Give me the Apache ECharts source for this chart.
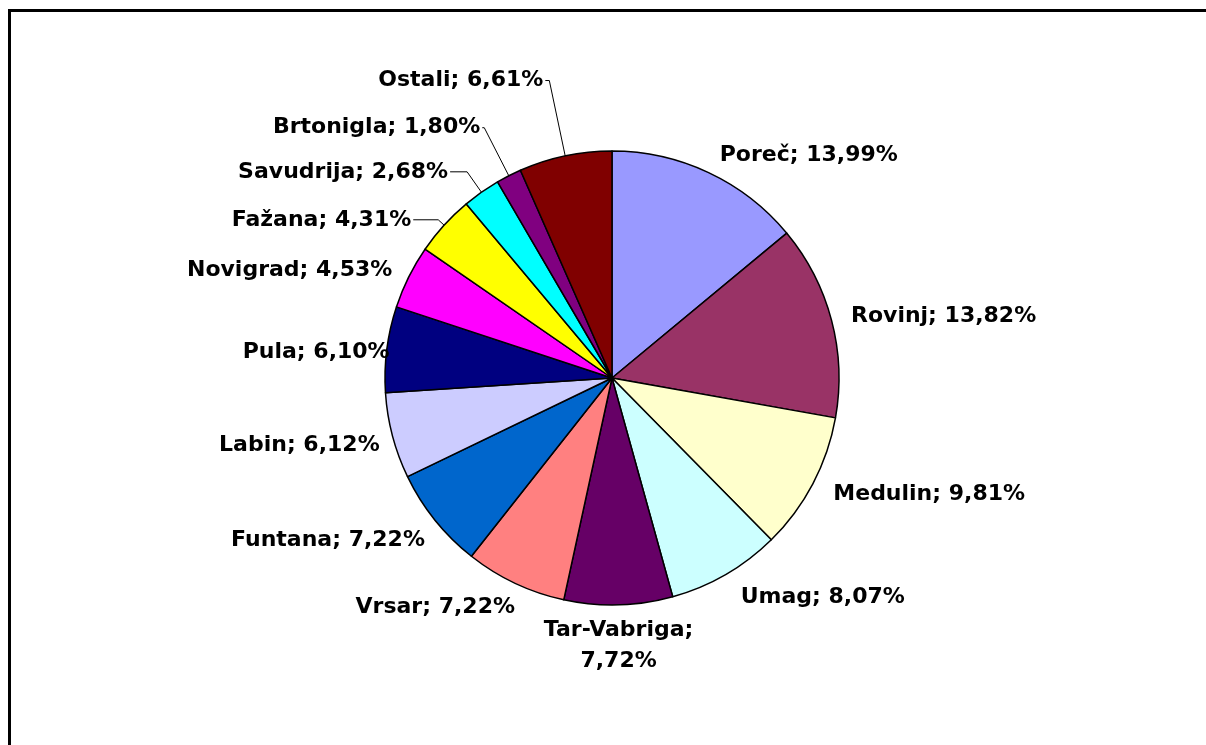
<!DOCTYPE html>
<html>
<head>
<meta charset="utf-8">
<script src="https://cdn.jsdelivr.net/npm/echarts@6/dist/echarts.min.js"></script>
<style>
  html, body { margin: 0; padding: 0; background: #fff; }
  #chart-container { width: 1206px; height: 745px; }
</style>
</head>
<body>
<div id="chart-container"></div>
<script>
// share by destination, clockwise from 12 o'clock
var places = ["Poreč", "Rovinj", "Medulin", "Umag", "Tar-Vabriga", "Vrsar", "Funtana",
  "Labin", "Pula", "Novigrad", "Fažana", "Savudrija", "Brtonigla", "Ostali"];
var shares = [13.99, 13.82, 9.81, 8.07, 7.72, 7.22, 7.22, 6.12, 6.10, 4.53, 4.31, 2.68, 1.80, 6.61];
var colors = ["#9999FF", "#993366", "#FFFFCC", "#CCFFFF", "#660066", "#FF8080", "#0066CC",
  "#CCCCFF", "#000080", "#FF00FF", "#FFFF00", "#00FFFF", "#800080", "#800000"];

// these get a leader line in the original
var withLine = ["Fažana", "Savudrija", "Brtonigla", "Ostali"];

// label line lengths per slice (radial, horizontal), tuned by eye
var lineLen = {
  "Poreč": [19, 1], "Rovinj": [16, 2], "Medulin": [22, -1], "Umag": [26, 0],
  "Tar-Vabriga": [41, -3], "Vrsar": [26, -13], "Funtana": [32, -17], "Labin": [37, -25],
  "Pula": [-22, 17], "Novigrad": [16, 0], "Fažana": [8, 25], "Savudrija": [25, 17],
  "Brtonigla": [54, 2], "Ostali": [77, 4]
};

var chartDom = document.getElementById("chart-container");
var myChart = echarts.init(chartDom);

var pieData = places.map(function (name, i) {
  return {
    name: name,
    value: shares[i],
    itemStyle: { color: colors[i] },
    labelLine: {
      show: withLine.indexOf(name) >= 0,
      length: lineLen[name][0],
      length2: lineLen[name][1]
    }
  };
});

function fmt(v) {
  return v.toFixed(2).replace(".", ",");
}

var option = {
  animation: false,
  graphic: [
    {
      type: "rect",
      shape: { x: 9.5, y: 10.5, width: 1240, height: 780 },
      style: { fill: "none", stroke: "#000", lineWidth: 3 },
      silent: true
    }
  ],
  series: [
    {
      type: "pie",
      center: [612, 378],
      radius: 227,
      startAngle: 90,
      clockwise: true,
      avoidLabelOverlap: false,
      itemStyle: { borderColor: "#000", borderWidth: 1.5 },
      label: {
        show: true,
        position: "outside",
        color: "#000",
        fontFamily: "DejaVu Sans",
        fontWeight: "bold",
        fontSize: 22,
        lineHeight: 31,
        distanceToLabelLine: 2,
        formatter: function (p) {
          if (p.name === "Tar-Vabriga") {
            return p.name + ";\n" + fmt(p.value) + "%";
          }
          return p.name + "; " + fmt(p.value) + "%";
        }
      },
      labelLine: {
        show: true,
        lineStyle: { color: "#000", width: 1 }
      },
      labelLayout: function (params) {
        if (params.dataIndex === places.indexOf("Tar-Vabriga")) {
          var r = params.labelRect;
          return {
            x: r.x,
            y: r.y + r.height / 2,
            align: "center",
            verticalAlign: "middle"
          };
        }
      },
      data: pieData
    }
  ]
};

myChart.setOption(option);
</script>
</body>
</html>
